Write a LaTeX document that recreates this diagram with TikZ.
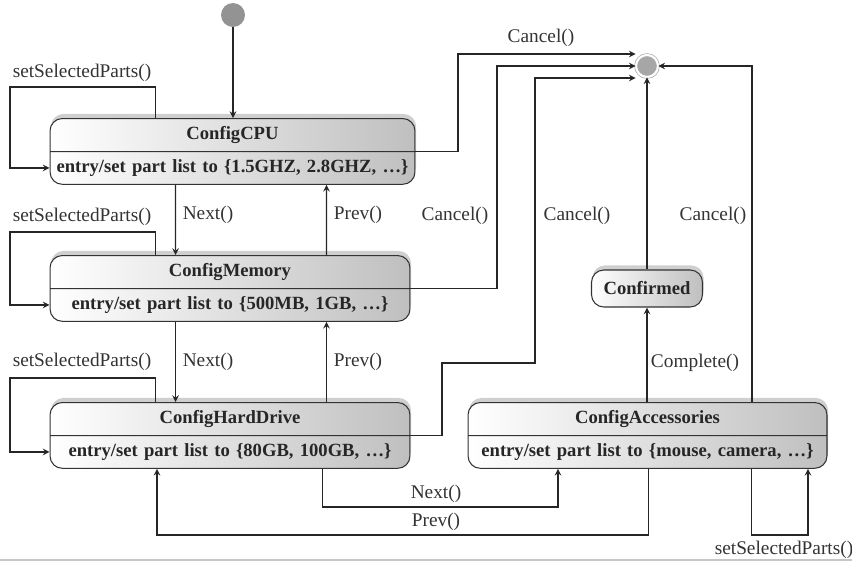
\documentclass[tikz,border=0pt]{standalone}
\usepackage{fontspec}
\setmainfont{Liberation Serif}
\usetikzlibrary{shapes.multipart, arrows, positioning, calc, shadows}

\begin{document}
\begin{tikzpicture}[
    x=0.02cm, y=-0.02cm,
    font=\fontsize{11}{13}\selectfont,
    statebox/.style={rectangle split, rectangle split parts=2, anchor=north,
        draw=black!80, line width=0.6pt, rounded corners=7pt,
        left color=white, right color=gray!50,
        drop shadow={shadow xshift=0.6pt, shadow yshift=2.6pt, fill=gray!75},
        font=\fontsize{10.6}{12.5}\selectfont\bfseries, text=black!85,
        align=center, text width=#1, inner xsep=0pt, inner ysep=4.2pt},
    smallbox/.style={rectangle, draw=black!80, line width=0.6pt, rounded corners=7pt,
        left color=white, right color=gray!50,
        drop shadow={shadow xshift=0.6pt, shadow yshift=2.6pt, fill=gray!75},
        font=\fontsize{10.6}{12.5}\selectfont\bfseries, text=black!85,
        minimum width=2.22cm, minimum height=0.74cm},
    tr/.style={line width=0.7pt, black!85, ->, >=stealth},
    lbl/.style={text=black!80, inner sep=1pt}
]
\useasboundingbox (0,0) rectangle (852,562);

% States
\node[circle, fill=gray!85, minimum size=0.48cm, inner sep=0pt] (init) at (233,15) {};
\node[circle, fill=gray!70, draw=gray!65, double=white, double distance=1.2pt,
      minimum size=0.44cm, inner sep=0pt] (fin) at (647,66) {};

\node[statebox=7.3cm] (cpu) at (232.5,118)
    {ConfigCPU \nodepart{two} entry/set part list to \{1.5GHZ, 2.8GHZ, \ldots\}};
\node[statebox=7.2cm] (mem) at (230,255)
    {ConfigMemory \nodepart{two} entry/set part list to \{500MB, 1GB, \ldots\}};
\node[statebox=7.2cm] (hd) at (230,402)
    {ConfigHardDrive \nodepart{two} entry/set part list to \{80GB, 100GB, \ldots\}};
\node[statebox=7.18cm] (acc) at (647.5,402)
    {ConfigAccessories \nodepart{two} entry/set part list to \{mouse, camera, \ldots\}};
\node[smallbox] (conf) at (647,288.5) {Confirmed};

% Bend points
\coordinate (kCpuLoop) at (10,87);
\coordinate (kMemLoop) at (10,232);
\coordinate (kHdLoop) at (10,378);
\coordinate (kCpuCancel) at (458,54);
\coordinate (kMemCancel) at (497,66);
\coordinate (kHdCancelA) at (442,363);
\coordinate (kHdCancel) at (535,78);
\coordinate (kAccCancel) at (752,402);
\coordinate (kNext) at (558,507);
\coordinate (kPrev) at (157,535);
\coordinate (kAccLoop) at (808,535);

% Transitions
\draw[tr] (init) -- (cpu.north -| init);

\draw[tr] ($(cpu.north west)+(106,0)$) |- (kCpuLoop) |- (cpu.two west);
\draw[tr] ($(mem.north west)+(106,0)$) |- (kMemLoop) |- (mem.two west);
\draw[tr] ($(hd.north west)+(106,0)$) |- (kHdLoop) |- (hd.two west);

\draw[tr] ($(cpu.south west)+(126,0)$) -- ($(mem.north west)+(126,0)$);
\draw[tr] ($(mem.north west)+(277,0)$) -- ($(cpu.south west)+(277,0)$);
\draw[tr] ($(mem.south west)+(126,0)$) -- ($(hd.north west)+(126,0)$);
\draw[tr] ($(hd.north west)+(277,0)$) -- ($(mem.south west)+(277,0)$);

\draw[tr] (cpu.text split east) -| (kCpuCancel) -- (fin.west |- kCpuCancel);
\draw[tr] (mem.text split east) -| (kMemCancel) -- (fin.west);
\draw[tr] (hd.text split east) -| (kHdCancelA) -| (kHdCancel) -- (fin.west |- kHdCancel);
\draw[tr] (kAccCancel) |- (fin.east);
\draw[tr] (conf.north) -- (fin.south);
\draw[tr] (acc.north -| conf) -- (conf.south);

\draw[tr] ($(hd.south west)+(273,0)$) |- (kNext) -- (kNext |- acc.south);
\draw[tr] ($(acc.south west)+(181,0)$) |- (kPrev) -- (kPrev |- hd.south);
\draw[tr] ($(acc.south west)+(284,0)$) |- (kAccLoop) -- (kAccLoop |- acc.south);

% Labels
\node[lbl] (lLoopCpu) at (82,73) {setSelectedParts()};
\node[lbl] (lLoopMem) at (82,217) {setSelectedParts()};
\node[lbl] (lLoopHd) at (82,362) {setSelectedParts()};
\node[lbl] (lLoopAcc) at (784,550) {setSelectedParts()};
\node[lbl] (lNextA) at (208,215) {Next()};
\node[lbl] (lPrevA) at (358,215) {Prev()};
\node[lbl] (lNextB) at (208,362) {Next()};
\node[lbl] (lPrevB) at (358,362) {Prev()};
\node[lbl] (lCancelCpu) at (541,38) {Cancel()};
\node[lbl] (lCancelMem) at (455,216) {Cancel()};
\node[lbl] (lCancelHd) at (577,216) {Cancel()};
\node[lbl] (lCancelAcc) at (713,216) {Cancel()};
\node[lbl] (lComplete) at (695,363) {Complete()};
\node[lbl] (lNextC) at (436,494) {Next()};
\node[lbl] (lPrevC) at (436,522) {Prev()};

% Frame edge
\draw[gray!45, line width=1.2pt] (0,560) -- (852,560);

\end{tikzpicture}
\end{document}
